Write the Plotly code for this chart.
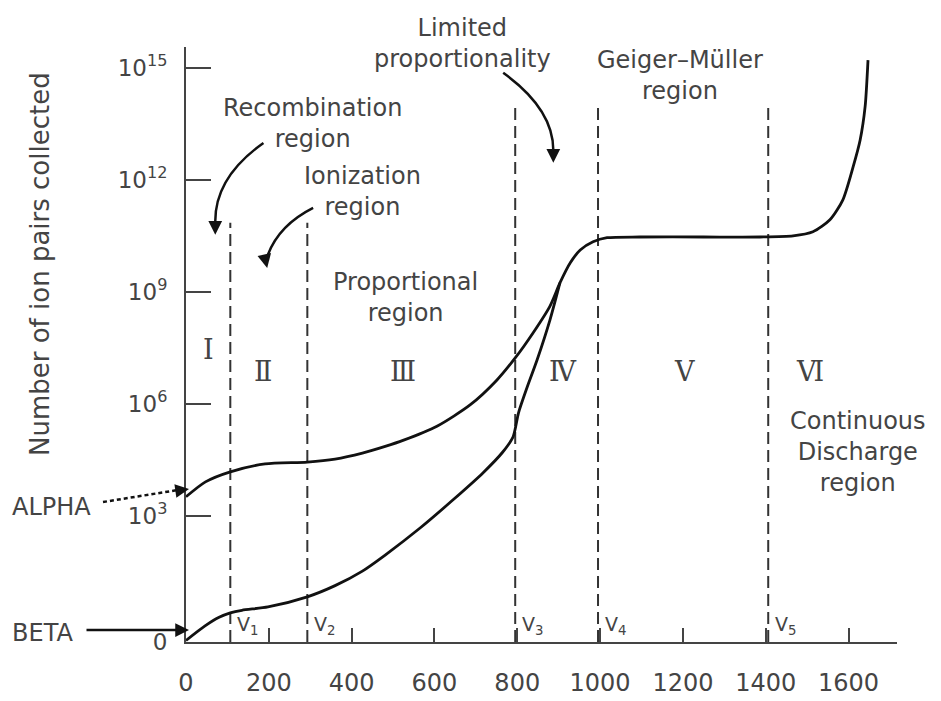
import plotly.graph_objects as go

# ---------------- data ----------------
alpha_v = [0, 47, 107, 191, 293, 360, 426, 481, 524, 606, 686, 751, 795, 838, 879, 903, 928, 952, 983, 1017, 1096, 1250, 1386, 1466, 1514, 1555, 1586, 1611, 1628, 1640, 1647]
alpha_exp = [3.51, 3.91, 4.18, 4.39, 4.44, 4.52, 4.68, 4.86, 5.02, 5.40, 5.97, 6.64, 7.23, 7.90, 8.62, 9.24, 9.78, 10.12, 10.34, 10.45, 10.47, 10.47, 10.47, 10.50, 10.61, 10.93, 11.46, 12.35, 13.07, 13.96, 15.21]

beta_v = [0, 46, 80, 107, 135, 198, 293, 360, 426, 481, 566, 645, 717, 765, 790, 803, 824, 848, 879, 903]
beta_exp = [-0.34, 0.05, 0.28, 0.40, 0.47, 0.56, 0.83, 1.13, 1.52, 1.95, 2.68, 3.43, 4.15, 4.71, 5.12, 5.76, 6.45, 7.18, 8.25, 9.24]

boundary_v = [107, 293, 795, 995, 1406]
boundary_top = [10.85, 10.85, 13.96, 13.96, 13.96]
boundary_names = ["V<sub>1</sub>", "V<sub>2</sub>", "V<sub>3</sub>", "V<sub>4</sub>", "V<sub>5</sub>"]

region_numerals = ["Ⅰ", "Ⅱ", "Ⅲ", "Ⅳ", "Ⅴ", "Ⅵ"]
region_num_x = [54, 187, 525, 911, 1205, 1507]
region_num_y = [7.45, 6.86, 6.86, 6.86, 6.86, 6.86]

x_tickvals = [0, 200, 400, 600, 800, 1000, 1200, 1400, 1600]
x_ticktext = ["0", "200", "400", "600", "800", "1000", "1200", "1400", "1600"]
y_tickvals = [-0.38, 3, 6, 9, 12, 15]
y_ticktext = ["0", "10<sup>3</sup>", "10<sup>6</sup>", "10<sup>9</sup>", "10<sup>12</sup>", "10<sup>15</sup>"]

X_RANGE = [0, 1717]
Y_RANGE = [-0.38, 15.56]

FONT = "DejaVu Sans"
TXT = "#444444"
LINE = "#111111"

fig = go.Figure()

# region boundaries (dashed)
for v, top in zip(boundary_v, boundary_top):
    fig.add_trace(go.Scatter(x=[v, v], y=[Y_RANGE[0], top], mode="lines",
                             line=dict(color="#333333", width=2, dash="12px,6px"),
                             showlegend=False, hoverinfo="skip"))

fig.add_trace(go.Scatter(x=beta_v, y=beta_exp, mode="lines", name="BETA",
                         line=dict(color=LINE, width=2.8, shape="spline", smoothing=0.7),
                         showlegend=False))
fig.add_trace(go.Scatter(x=alpha_v, y=alpha_exp, mode="lines", name="ALPHA",
                         line=dict(color=LINE, width=2.8, shape="spline", smoothing=0.7),
                         showlegend=False))

# plot area as it appears on screen
PL, PR, PT, PB = 186, 897, 47, 642


def px(xp):
    return (xp - PL) / (PR - PL)


def py(yp):
    return (PB - yp) / (PB - PT)


ann = []
for v, name in zip(boundary_v, boundary_names):
    ann.append(dict(x=v, y=0.05, xref="x", yref="y", text=name, showarrow=False,
                    xanchor="left", yanchor="middle", xshift=5,
                    font=dict(family=FONT, size=19, color=TXT)))
for t, xv, yv in zip(region_numerals, region_num_x, region_num_y):
    ann.append(dict(x=xv, y=yv, xref="x", yref="y", text=t, showarrow=False,
                    xanchor="center", yanchor="middle",
                    font=dict(family="DejaVu Serif", size=27, color=TXT)))

lab = dict(family=FONT, size=24, color=TXT)
C = dict(xanchor="center", yanchor="middle", showarrow=False, font=lab)
ann += [
    dict(x=305, y=13.51, xref="x", yref="y", text="Recombination<br>region", **C),
    dict(x=426, y=11.68, xref="x", yref="y", text="Ionization<br>region", **C),
    dict(x=530, y=8.84, xref="x", yref="y", text="Proportional<br>region", **C),
    dict(x=1193, y=14.81, xref="x", yref="y", text="Geiger–Müller<br>region", **C),
    dict(x=1623, y=4.71, xref="x", yref="y", text="Continuous<br>Discharge<br>region", **C),
    dict(x=px(462), y=py(43), xref="paper", yref="paper", text="Limited<br>proportionality", **C),
    dict(x=px(40), y=py(264), xref="paper", yref="paper", text="Number of ion pairs collected",
         textangle=-90, xanchor="center", yanchor="middle", showarrow=False,
         font=dict(family=FONT, size=26, color=TXT)),
    dict(x=px(10), y=py(507), xref="paper", yref="paper", text="ALPHA", xanchor="left",
         yanchor="middle", showarrow=False, font=lab),
    dict(x=px(10), y=py(633), xref="paper", yref="paper", text="BETA", xanchor="left",
         yanchor="middle", showarrow=False, font=lab),
    # BETA arrow
    dict(x=px(189), y=py(630), xref="paper", yref="paper", text="", showarrow=True,
         ax=-104, ay=0, arrowhead=2, arrowsize=1.1, arrowwidth=2.5, arrowcolor=LINE),
    # ALPHA arrowhead
    dict(x=px(189), y=py(489), xref="paper", yref="paper", text="", showarrow=True,
         ax=-14, ay=2, arrowhead=2, arrowsize=1.1, arrowwidth=2.5, arrowcolor=LINE),
    # curved arrow heads
    dict(x=70.7, y=10.53, xref="x", yref="y", text="", showarrow=True, ax=0, ay=-14,
         arrowhead=2, arrowsize=1.1, arrowwidth=2.5, arrowcolor=LINE),
    dict(x=196, y=9.64, xref="x", yref="y", text="", showarrow=True, ax=-3, ay=-14,
         arrowhead=2, arrowsize=1.1, arrowwidth=2.5, arrowcolor=LINE),
    dict(x=887, y=12.46, xref="x", yref="y", text="", showarrow=True, ax=0, ay=-14,
         arrowhead=2, arrowsize=1.1, arrowwidth=2.5, arrowcolor=LINE),
]

shapes = [
    dict(type="path", xref="x", yref="y", path="M 187,12.99 Q 70.7,12.08 70.7,10.9",
         line=dict(color=LINE, width=2.5)),
    dict(type="path", xref="x", yref="y", path="M 307,11.25 Q 225,10.79 198,10.0",
         line=dict(color=LINE, width=2.5)),
    dict(type="path", xref="x", yref="y", path="M 766,14.87 Q 887,13.90 887,12.8",
         line=dict(color=LINE, width=2.5)),
    dict(type="line", xref="paper", yref="paper", x0=px(103), y0=py(502), x1=px(178), y1=py(490),
         line=dict(color=LINE, width=2.5, dash="4px,3px")),
]

fig.update_layout(
    width=941, height=701,
    margin=dict(l=178, r=52, t=39, b=67),
    paper_bgcolor="white", plot_bgcolor="white",
    showlegend=False,
    annotations=ann, shapes=shapes,
    font=dict(family=FONT, color=TXT),
)
fig.update_xaxes(range=X_RANGE, tickvals=x_tickvals, ticktext=x_ticktext, automargin=False,
                 ticks="inside", ticklen=14, tickwidth=2, tickcolor="#444",
                 showline=True, linecolor="#444", linewidth=2,
                 showgrid=False, zeroline=False, ticklabelstandoff=18,
                 tickfont=dict(family=FONT, size=24, color=TXT))
fig.update_yaxes(range=Y_RANGE, tickvals=y_tickvals, ticktext=y_ticktext, automargin=False,
                 ticks="inside", ticklen=25, tickwidth=2, tickcolor="#444",
                 showline=True, linecolor="#444", linewidth=2,
                 showgrid=False, zeroline=False, ticklabelstandoff=12,
                 tickfont=dict(family=FONT, size=23, color=TXT))

fig.write_html("out.html")
